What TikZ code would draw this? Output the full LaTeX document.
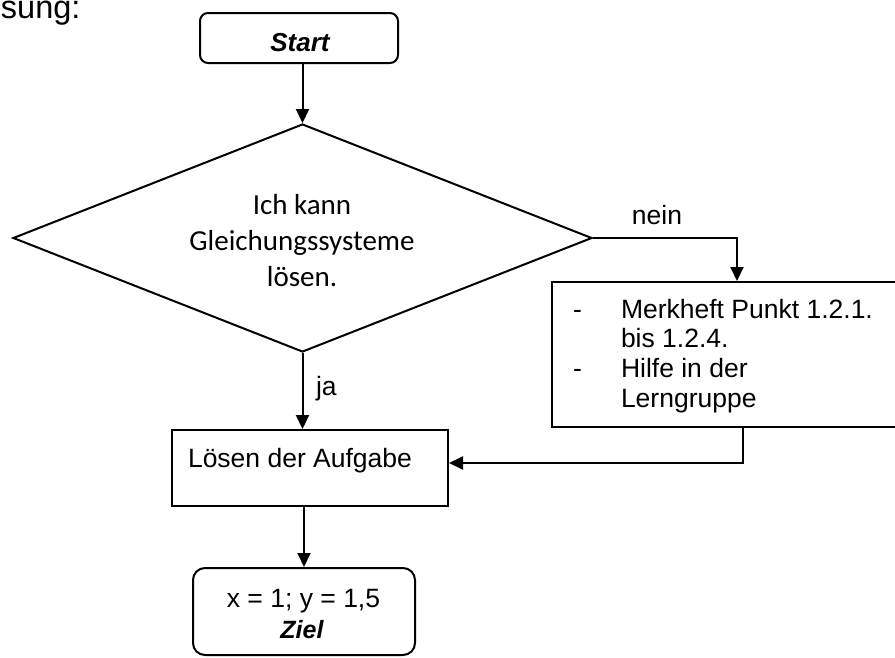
\documentclass[tikz,border=0pt]{standalone}
\usepackage{fontspec}
\setmainfont{Liberation Sans}
\newfontfamily\calibrifont{Carlito}
\usetikzlibrary{shapes.geometric,arrows.meta}
\begin{document}
\begin{tikzpicture}[x=1pt,y=-1pt,
  line width=2pt,
  boxshape/.style={draw,line width=2pt,inner sep=0pt,rectangle},
  roundbox/.style={boxshape,rounded corners=#1},
  arr/.style={line width=2pt,-{Triangle[length=14pt,width=13pt]}},
  plain/.style={font=\fontsize{26.5}{30}\selectfont,inner sep=0pt},
  emph/.style={font=\fontsize{#1}{28}\selectfont\bfseries\itshape,inner sep=0pt},
  diamtext/.style={font=\calibrifont\fontsize{29}{36}\selectfont,inner sep=0pt}
]
\useasboundingbox (0,0) rectangle (895,657);
\clip (0,0) rectangle (895,657);

% heading fragment
\node[font=\fontsize{32.5}{36}\selectfont,inner sep=0pt,anchor=base west] (head) at (0,18) {sung:};

% Start
\node[roundbox=8pt,minimum width=198pt,minimum height=50pt] (start) at (299,38) {};
\node[emph=26,anchor=base] (starttxt) at (300,51) {Start};

% decision
\node[draw,diamond,line width=2pt,inner sep=0pt,minimum width=579pt,minimum height=228pt] (dec) at (302.5,238) {};
\node[diamtext,anchor=base] (d1) at (302,214) {Ich kann};
\node[diamtext,anchor=base] (d2) at (302,250) {Gleichungssysteme};
\node[diamtext,anchor=base] (d3) at (302,286) {lösen.};

% help box
\node[boxshape,minimum width=408pt,minimum height=145pt] (hilfe) at (756,354.5) {};
\node[plain,anchor=base west] (h1a) at (572,318) {-};
\node[plain,anchor=base west] (h1) at (620,318) {Merkheft Punkt 1.2.1.};
\node[plain,anchor=base west] (h2) at (620,347) {bis 1.2.4.};
\node[plain,anchor=base west] (h3a) at (572,377) {-};
\node[plain,anchor=base west] (h3) at (620,377) {Hilfe in der};
\node[plain,anchor=base west] (h4) at (620,407) {Lerngruppe};

% solve box
\node[boxshape,minimum width=276pt,minimum height=76pt] (loesen) at (310,468) {};
\node[plain,anchor=base] (ltxt) at (300,467) {Lösen der Aufgabe};

% goal box
\node[roundbox=12pt,minimum width=222pt,minimum height=87pt] (ziel) at (304,611.5) {};
\node[plain,anchor=base] (z1) at (303.5,607) {x = 1; y = 1,5};
\node[emph=25,anchor=base] (z2) at (302,638) {Ziel};

% labels
\node[plain,anchor=base] (nein) at (657,224) {nein};
\node[plain,anchor=base west] (ja) at (315,395) {ja};

% connectors
\draw[arr] (dec.north |- start.south) -- (dec.north);
\draw[arr] (dec.east) -| ([xshift=186pt]hilfe.north west);
\draw[arr] (dec.south) -- (dec.south |- loesen.north);
\draw[arr] ([xshift=192pt]hilfe.south west) |- ([yshift=5pt]loesen.east);
\draw[arr] (ziel.north |- loesen.south) -- (ziel.north);
\end{tikzpicture}
\end{document}
